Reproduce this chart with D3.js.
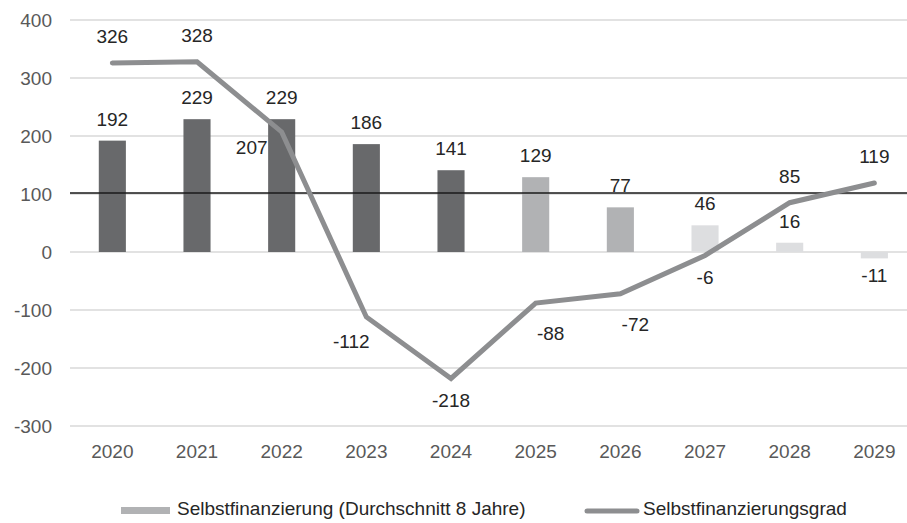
<!DOCTYPE html>
<html><head><meta charset="utf-8">
<script src="https://cdn.jsdelivr.net/npm/d3@7/dist/d3.min.js"></script>
<style>html,body{margin:0;padding:0;background:#fff}svg{display:block;font-family:"Liberation Sans",Arial,sans-serif}</style>
</head><body><svg id="c" width="907" height="523"></svg>
<script>
const years = ["2020","2021","2022","2023","2024","2025","2026","2027","2028","2029"];
const barValues = [192,229,229,186,141,129,77,46,16,-11];
const barShade = ["dark","dark","dark","dark","dark","mid","mid","light","light","light"];
const lineValues = [326,328,207,-112,-218,-88,-72,-6,85,119];
const lineLabelPos = ["above","above","left","belowLeft","below","belowRight","belowRight","below","above","above"];
const yTicks = [-300,-200,-100,0,100,200,300,400];
const referenceValue = 100;
const legendLabels = ["Selbstfinanzierung (Durchschnitt 8 Jahre)","Selbstfinanzierungsgrad"];

const colors = {dark:"#68696b", mid:"#b1b2b4", light:"#dddee0", line:"#8d8e90", grid:"#d9d9d9", axisText:"#595959", label:"#262626"};
const svg = d3.select("#c");
const x = d3.scaleBand().domain(years).range([70, 916.7]).paddingInner(0.68).paddingOuter(0.34);
const y = d3.scaleLinear().domain([-300,400]).range([426,20]);
const FS = 19;

// gridlines
svg.append("g").selectAll("line").data(yTicks).join("line")
  .attr("x1",70).attr("x2",907).attr("y1",d=>y(d)).attr("y2",d=>y(d))
  .attr("stroke",colors.grid).attr("stroke-width",1.5);

// y axis labels
const yAxis = d3.axisLeft(y).tickValues(yTicks).tickSize(0).tickPadding(0).tickFormat(d=>String(d));
const ya = svg.append("g").attr("transform","translate(52,0)").call(yAxis);
ya.select(".domain").remove();
ya.selectAll("text").attr("font-size",FS).attr("fill",colors.axisText).attr("font-family","Liberation Sans, Arial, sans-serif").attr("dy","0.36em");

// x axis labels
const xAxis = d3.axisBottom(x).tickSize(0).tickPadding(0);
const xa = svg.append("g").attr("transform","translate(0,458)").call(xAxis);
xa.select(".domain").remove();
xa.selectAll("text").attr("font-size",FS).attr("fill",colors.axisText).attr("font-family","Liberation Sans, Arial, sans-serif").attr("dy",0).attr("y",0);

// bars
svg.append("g").selectAll("rect").data(barValues).join("rect")
  .attr("x",(d,i)=>x(years[i])).attr("width",x.bandwidth())
  .attr("y",d=>y(Math.max(0,d))).attr("height",d=>Math.abs(y(d)-y(0)))
  .attr("fill",(d,i)=>colors[barShade[i]]);

// bar labels
svg.append("g").selectAll("text").data(barValues).join("text")
  .attr("x",(d,i)=>x(years[i])+x.bandwidth()/2)
  .attr("y",d=> d>=0 ? y(d)-15 : y(d)+24)
  .attr("text-anchor","middle").attr("font-size",FS).attr("fill",colors.label).text(d=>d);

// reference line
svg.append("line").attr("x1",70).attr("x2",907).attr("y1",y(referenceValue)-1).attr("y2",y(referenceValue)-1)
  .attr("stroke","#1a1a1a").attr("stroke-width",1.5);

// line
const cx = i => x(years[i])+x.bandwidth()/2;
const line = d3.line().x((d,i)=>cx(i)).y(d=>y(d));
svg.append("path").datum(lineValues).attr("d",line).attr("fill","none")
  .attr("stroke",colors.line).attr("stroke-width",5).attr("stroke-linecap","round").attr("stroke-linejoin","miter");

// line labels
const off = {above:[0,-20], left:[-30,22], belowLeft:[-15,31], below:[0,29], belowRight:[15,37]};
svg.append("g").selectAll("text").data(lineValues).join("text")
  .attr("x",(d,i)=>cx(i)+off[lineLabelPos[i]][0])
  .attr("y",(d,i)=>y(d)+off[lineLabelPos[i]][1])
  .attr("text-anchor","middle").attr("font-size",FS).attr("fill",colors.label).text(d=>d);

// legend
const lg = svg.append("g");
lg.append("rect").attr("x",121).attr("y",507).attr("width",49).attr("height",7).attr("fill",colors.mid);
lg.append("text").attr("x",177).attr("y",515).attr("font-size",FS).attr("fill",colors.label).text(legendLabels[0]);
lg.append("line").attr("x1",587).attr("x2",637).attr("y1",511).attr("y2",511).attr("stroke",colors.line).attr("stroke-width",5).attr("stroke-linecap","round");
lg.append("text").attr("x",643).attr("y",515).attr("font-size",FS).attr("fill",colors.label).text(legendLabels[1]);
</script></body></html>
